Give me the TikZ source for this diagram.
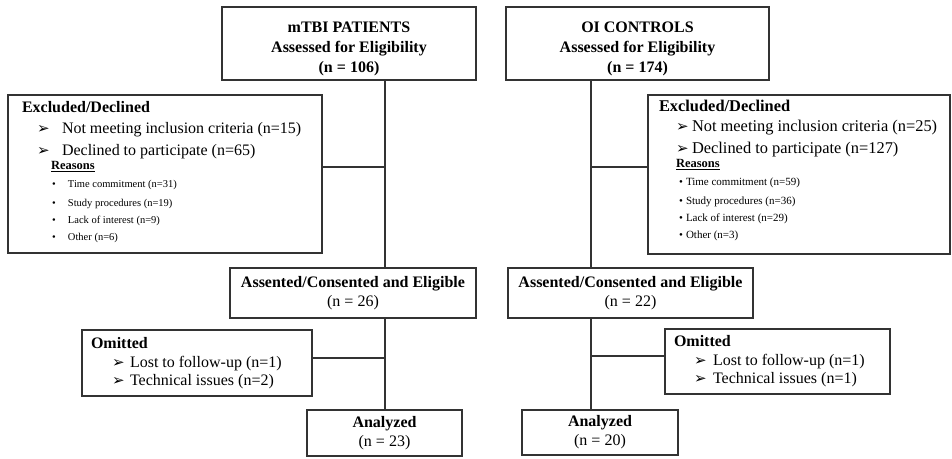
\documentclass[tikz,border=0pt]{standalone}
\usepackage{fontspec}
\setmainfont{Liberation Serif}
\newfontfamily\arrowfont{DejaVu Sans}
\usepackage{tikz}

\newcommand{\arr}{{\arrowfont\fontsize{15}{15}\selectfont ➢}}

\begin{document}
\begin{tikzpicture}[x=1pt,y=-1pt]
        % Define the styles for the boxes and links
        \tikzstyle{flowbox}=[rectangle, draw=black!80, line width=1.6pt, align=center, inner sep=0pt, font=\fontsize{16}{19}\selectfont]
        \tikzstyle{listbox}=[flowbox, align=left]
        \tikzstyle{link}=[draw=black!80, line width=1.1pt]

        \useasboundingbox (0,0) rectangle (952,458);

        % Define the top boxes
        \node[flowbox, minimum width=254pt, minimum height=73pt, font=\fontsize{16}{20}\selectfont\bfseries] (pat) at (349,43.5)
            {\rule{0pt}{22pt}mTBI PATIENTS\\Assessed for Eligibility\\(n = 106)};
        \node[flowbox, minimum width=263pt, minimum height=73pt, font=\fontsize{16}{20}\selectfont\bfseries] (oic) at (637.5,43.5)
            {\rule{0pt}{22pt}OI CONTROLS\\Assessed for Eligibility\\(n = 174)};

        % Define the excluded boxes
        \node[listbox, text width=286pt, inner xsep=14pt, minimum height=158pt, font=\fontsize{16}{20}\selectfont] (exl) at (165,174)
            {\spaceskip=0pt\relax
             \textbf{Excluded/Declined}\\[1pt]
             \hspace*{15pt}\makebox[25pt][l]{\arr}Not meeting inclusion criteria (n=15)\\[2pt]
             \hspace*{15pt}\makebox[25pt][l]{\arr}Declined to participate (n=65)\\[-6pt]
             \hspace*{29pt}{\fontsize{12.5}{12}\selectfont\textbf{\underline{Reasons}}}\\[-2pt]
             \hspace*{30pt}{\fontsize{10.5}{12}\selectfont\makebox[16pt][l]{\textbullet}Time commitment (n=31)}\\[-1pt]
             \hspace*{30pt}{\fontsize{10.5}{12}\selectfont\makebox[16pt][l]{\textbullet}Study procedures (n=19)}\\[-3pt]
             \hspace*{30pt}{\fontsize{10.5}{12}\selectfont\makebox[16pt][l]{\textbullet}Lack of interest (n=9)}\\[-3pt]
             \hspace*{30pt}{\fontsize{10.5}{12}\selectfont\makebox[16pt][l]{\textbullet}Other (n=6)}\rule[-6pt]{0pt}{0pt}};
        \node[listbox, text width=280pt, inner xsep=11pt, minimum height=159pt, font=\fontsize{16.4}{20}\selectfont] (exr) at (799,174.5)
            {\spaceskip=0pt\relax
             \textbf{Excluded/Declined}\\
             \hspace*{17pt}\makebox[16pt][l]{\arr}Not meeting inclusion criteria (n=25)\\[2pt]
             \hspace*{17pt}\makebox[16pt][l]{\arr}Declined to participate (n=127)\\[-6pt]
             \hspace*{17pt}{\fontsize{12.5}{12}\selectfont\textbf{\underline{Reasons}}}\\[-2pt]
             \hspace*{20pt}{\fontsize{11}{12}\selectfont\makebox[7pt][l]{\textbullet}Time commitment (n=59)}\\[-1pt]
             \hspace*{20pt}{\fontsize{11}{12}\selectfont\makebox[7pt][l]{\textbullet}Study procedures (n=36)}\\[-3pt]
             \hspace*{20pt}{\fontsize{11}{12}\selectfont\makebox[7pt][l]{\textbullet}Lack of interest (n=29)}\\[-3pt]
             \hspace*{20pt}{\fontsize{11}{12}\selectfont\makebox[7pt][l]{\textbullet}Other (n=3)}\rule[-10pt]{0pt}{0pt}};

        % Define the assented boxes
        \node[flowbox, minimum width=246pt, minimum height=50pt] (asl) at (353,293)
            {\textbf{Assented/Consented and Eligible}\\(n = 26)};
        \node[flowbox, minimum width=245pt, minimum height=50pt] (asr) at (630.5,293)
            {\textbf{Assented/Consented and Eligible}\\(n = 22)};

        % Define the omitted boxes
        \node[listbox, text width=212pt, inner xsep=9pt, minimum height=66pt, font=\fontsize{16}{18}\selectfont] (oml) at (197,363)
            {\spaceskip=0pt\relax
             \textbf{Omitted}\\[1pt]
             \hspace*{21pt}\makebox[18pt][l]{\arr}Lost to follow-up (n=1)\\
             \hspace*{21pt}\makebox[18pt][l]{\arr}Technical issues (n=2)};
        \node[listbox, text width=207pt, inner xsep=9pt, minimum height=65pt, font=\fontsize{16}{18}\selectfont] (omr) at (777.5,361.5)
            {\spaceskip=0pt\relax
             \textbf{Omitted}\\[1pt]
             \hspace*{20pt}\makebox[19pt][l]{\arr}Lost to follow-up (n=1)\\
             \hspace*{20pt}\makebox[19pt][l]{\arr}Technical issues (n=1)};

        % Define the analyzed boxes
        \node[flowbox, minimum width=155pt, minimum height=46pt] (anl) at (384.5,433)
            {\textbf{Analyzed}\\(n = 23)};
        \node[flowbox, minimum width=156pt, minimum height=45pt] (anr) at (600,432.5)
            {\textbf{Analyzed}\\(n = 20)};

        % Define the junctions
        \coordinate (jl1) at (385,167);
        \coordinate (jl2) at (385,358);
        \coordinate (jr1) at (591,167);
        \coordinate (jr2) at (591,356);

        % Define the links
        \draw[link] (pat.south -| jl1) -- (asl.north -| jl1);
        \draw[link] (exl.east |- jl1) -- (jl1);
        \draw[link] (asl.south -| jl2) -- (anl.north -| jl2);
        \draw[link] (oml.east |- jl2) -- (jl2);
        \draw[link] (oic.south -| jr1) -- (asr.north -| jr1);
        \draw[link] (jr1) -- (exr.west |- jr1);
        \draw[link] (asr.south -| jr2) -- (anr.north -| jr2);
        \draw[link] (jr2) -- (omr.west |- jr2);
    \end{tikzpicture}
\end{document}
